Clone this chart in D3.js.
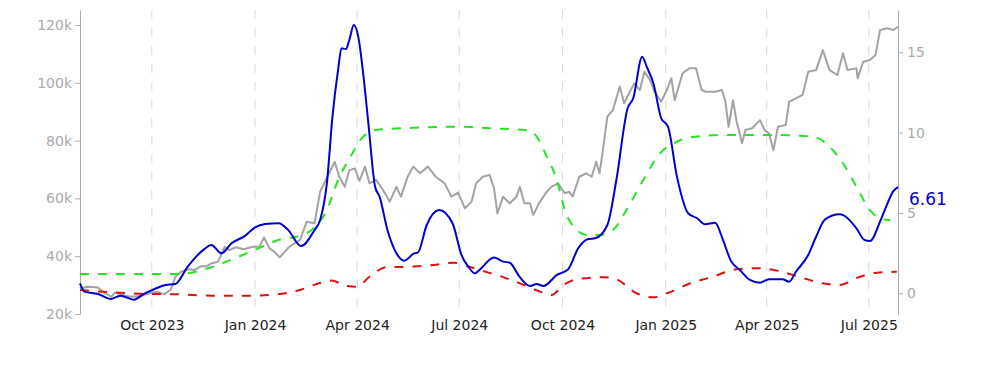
<!DOCTYPE html>
<html>
<head>
<meta charset="utf-8">
<script src="https://cdn.jsdelivr.net/npm/d3@7"></script>
<style>
  body { margin: 0; background: #fff; }
</style>
</head>
<body>
<div id="root"></div>
<script>
// price (left axis)
const priceDates = [
  "2023-07-29","2023-07-30","2023-08-05","2023-08-14","2023-08-20","2023-08-26","2023-08-29","2023-09-03",
  "2023-09-12","2023-09-21","2023-09-29","2023-10-06","2023-10-12","2023-10-18","2023-10-22","2023-10-27",
  "2023-11-03","2023-11-08","2023-11-14","2023-11-18","2023-11-23","2023-11-29","2023-12-05","2023-12-09",
  "2023-12-15","2023-12-22","2023-12-30","2024-01-05","2024-01-09","2024-01-14","2024-01-18","2024-01-23",
  "2024-01-31","2024-02-10","2024-02-16","2024-02-23","2024-02-28","2024-03-04","2024-03-07","2024-03-12",
  "2024-03-16","2024-03-21","2024-03-25","2024-03-30","2024-04-03","2024-04-08","2024-04-12","2024-04-18",
  "2024-04-24","2024-04-30","2024-05-06","2024-05-10","2024-05-16","2024-05-21","2024-05-27","2024-06-03",
  "2024-06-10","2024-06-18","2024-06-24","2024-06-30","2024-07-06","2024-07-12","2024-07-16","2024-07-22",
  "2024-07-28","2024-08-01","2024-08-04","2024-08-09","2024-08-15","2024-08-21","2024-08-24","2024-08-28",
  "2024-09-02","2024-09-05","2024-09-10","2024-09-16","2024-09-21","2024-09-27","2024-10-03","2024-10-07",
  "2024-10-10","2024-10-16","2024-10-22","2024-10-27","2024-10-31","2024-11-03","2024-11-06","2024-11-10",
  "2024-11-15","2024-11-21","2024-11-25","2024-11-30","2024-12-04","2024-12-09","2024-12-13","2024-12-18",
  "2024-12-22","2024-12-28","2025-01-02","2025-01-06","2025-01-09","2025-01-16","2025-01-22","2025-01-28",
  "2025-02-02","2025-02-06","2025-02-14","2025-02-20","2025-02-23","2025-02-26","2025-03-02","2025-03-05",
  "2025-03-10","2025-03-13","2025-03-19","2025-03-26","2025-03-30","2025-04-03","2025-04-07","2025-04-11",
  "2025-04-18","2025-04-21","2025-04-27","2025-05-03","2025-05-08","2025-05-15","2025-05-21","2025-05-27",
  "2025-06-03","2025-06-08","2025-06-12","2025-06-20","2025-06-21","2025-06-26","2025-07-02","2025-07-07",
  "2025-07-11","2025-07-17","2025-07-23","2025-07-27"
];
const priceValues = [
  29300,28900,29400,29200,27200,26000,27400,26800,
  26000,26200,27200,27700,26800,28500,32900,34600,
  35500,35200,36600,36400,37500,38100,43300,42100,
  43100,42400,43300,43300,46500,42700,41600,39600,
  43100,45600,51900,51400,62300,66400,68700,72700,
  67500,64000,69800,70400,66100,71000,65200,66400,
  62900,58900,64000,60600,67500,71000,68700,71000,
  67500,65200,60600,62000,56600,58900,65200,67500,
  68100,63500,54800,60600,58300,60600,64000,58300,
  58300,54300,58300,61800,64000,65200,61800,62300,
  60600,67500,68700,67500,72700,68700,76700,88300,
  90600,98700,92900,96900,99800,97500,103800,101000,
  96900,93500,97500,101600,94000,103300,105000,105000,
  97500,96900,96900,97500,94000,84800,94000,86900,
  79100,83700,84300,87100,83700,82500,76700,84800,
  85400,93500,94600,95800,103800,104400,111300,104400,
  102700,110200,104400,105000,101600,107300,107900,109600,
  118300,118900,118300,119400
];

// blue indicator (right axis)
const blueDates = [
  "2023-07-29","2023-08-02","2023-08-14","2023-08-25","2023-09-03","2023-09-15","2023-09-24","2023-10-03",
  "2023-10-13","2023-10-22","2023-11-02","2023-11-17","2023-11-23","2023-12-02","2023-12-11","2023-12-23",
  "2024-01-01","2024-01-10","2024-01-22","2024-01-31","2024-02-11","2024-02-23","2024-02-28","2024-03-05",
  "2024-03-10","2024-03-15","2024-03-18","2024-03-22","2024-03-25","2024-03-29","2024-04-02","2024-04-06",
  "2024-04-11","2024-04-17","2024-04-21","2024-04-28","2024-05-06","2024-05-13","2024-05-22","2024-05-25",
  "2024-06-02","2024-06-13","2024-06-25","2024-07-03","2024-07-09","2024-07-15","2024-07-19","2024-08-01",
  "2024-08-09","2024-08-15","2024-08-24","2024-09-02","2024-09-08","2024-09-14","2024-09-26","2024-10-06",
  "2024-10-15","2024-10-24","2024-10-30","2024-11-10","2024-11-18","2024-11-28","2024-12-03","2024-12-11",
  "2024-12-15","2024-12-21","2024-12-28","2025-01-03","2025-01-11","2025-01-21","2025-01-29","2025-02-05",
  "2025-02-14","2025-02-21","2025-02-28","2025-03-08","2025-03-17","2025-03-26","2025-04-03","2025-04-15",
  "2025-04-21","2025-04-27","2025-05-08","2025-05-15","2025-05-23","2025-06-05","2025-06-20","2025-06-27",
  "2025-07-02","2025-07-11","2025-07-17","2025-07-23","2025-07-27"
];
const blueValues = [
  0.62,0.1,-0.04,-0.35,-0.15,-0.4,-0.04,0.25,
  0.52,0.58,1.66,2.76,3.0,2.49,3.11,3.57,
  4.1,4.31,4.36,3.9,2.94,3.94,4.56,6.84,
  11.0,13.9,15.25,15.2,15.76,16.7,15.97,13.9,
  10.58,6.63,6.01,3.94,2.49,2.03,2.49,2.53,
  4.25,5.18,4.36,2.38,1.66,1.24,1.45,2.22,
  1.97,1.9,1.0,0.45,0.58,0.45,1.14,1.49,
  2.8,3.38,3.42,4.25,7.05,11.5,12.13,14.72,
  14.1,13.07,10.89,10.37,7.26,4.98,4.67,4.29,
  4.39,3.32,2.03,1.45,0.83,0.66,0.87,0.87,
  0.72,1.34,2.38,3.52,4.6,4.92,4.04,3.32,
  3.25,4.46,5.49,6.37,6.61
];

// green dashed (right axis)
const greenDates = [
  "2023-07-29","2023-10-26","2023-11-02","2023-11-23","2023-12-14","2024-01-04","2024-01-24","2024-02-07",
  "2024-02-22","2024-03-05","2024-03-15","2024-03-26","2024-04-05","2024-04-17","2024-05-21","2024-07-02",
  "2024-07-28","2024-09-02","2024-09-08","2024-09-17","2024-09-26","2024-10-03","2024-10-11","2024-10-23",
  "2024-11-03","2024-11-15","2024-11-27","2024-12-12","2024-12-27","2025-01-11","2025-01-23","2025-02-21",
  "2025-04-07","2025-05-04","2025-05-17","2025-05-27","2025-06-08","2025-06-20","2025-07-02","2025-07-11",
  "2025-07-20"
];
const greenValues = [
  1.2,1.2,1.24,1.62,2.18,2.8,3.36,3.52,
  4.04,5.18,7.05,8.5,9.64,10.16,10.3,10.37,
  10.27,10.12,9.75,8.5,7.05,5.18,4.14,3.63,
  3.63,3.94,5.18,7.05,8.71,9.43,9.71,9.85,
  9.85,9.79,9.64,9.12,8.09,6.63,5.18,4.67,
  4.56
];

// red dashed (right axis)
const redDates = [
  "2023-07-29","2023-08-26","2023-09-25","2023-10-24","2023-11-23","2023-12-23","2024-01-21","2024-02-10",
  "2024-02-25","2024-03-09","2024-03-23","2024-04-01","2024-04-12","2024-04-27","2024-05-21","2024-06-08",
  "2024-06-26","2024-07-08","2024-07-19","2024-08-06","2024-08-24","2024-09-11","2024-09-21","2024-10-02",
  "2024-10-14","2024-11-06","2024-11-18","2024-12-06","2024-12-21","2025-01-02","2025-01-23","2025-02-12",
  "2025-03-05","2025-03-23","2025-04-10","2025-05-01","2025-05-21","2025-06-05","2025-06-23","2025-07-08",
  "2025-07-26"
];
const redValues = [
  0.2,0.06,-0.04,-0.06,-0.15,-0.15,-0.06,0.2,
  0.58,0.79,0.45,0.41,1.03,1.62,1.66,1.76,
  1.9,1.7,1.45,1.08,0.62,0.1,-0.11,0.52,
  0.87,1.0,0.87,0,-0.25,0,0.62,1.03,
  1.49,1.56,1.41,1.0,0.62,0.52,1.03,1.28,
  1.34
];

const priceTicks = [20000, 40000, 60000, 80000, 100000, 120000];
const indexTicks = [0, 5, 10, 15];
const xTicks = ["2023-10-01","2024-01-01","2024-04-01","2024-07-01","2024-10-01","2025-01-01","2025-04-01","2025-07-01"];

const width = 1000;
const height = 370;
const margin = { top: 10, right: 102, bottom: 56, left: 80 };
const font = '"DejaVu Sans", Verdana, sans-serif';
const parse = d3.utcParse('%Y-%m-%d');

const svg = d3.select('#root')
  .append('svg')
    .attr('width', width)
    .attr('height', height)
    .attr('font-family', font);

const x = d3.scaleUtc()
  .domain([parse("2023-07-29"), parse("2025-07-27")])
  .range([margin.left, width - margin.right]);

const yLeft = d3.scaleLinear()
  .domain([20000, 125200])
  .range([height - margin.bottom, margin.top]);

const yRight = d3.scaleLinear()
  .domain([-1.29, 17.63])
  .range([height - margin.bottom, margin.top]);

// dashed vertical grid
svg.append('g')
  .selectAll('line')
  .data(xTicks.map(parse))
  .enter()
  .append('line')
    .attr('x1', d => x(d))
    .attr('x2', d => x(d))
    .attr('y1', margin.top)
    .attr('y2', height - margin.bottom)
    .attr('stroke', '#d9d9d9')
    .attr('stroke-width', 1)
    .attr('stroke-dasharray', '9,9');

// x axis (labels only)
const xAxis = svg.append('g')
  .attr('transform', `translate(0, ${height - margin.bottom})`)
  .call(d3.axisBottom(x)
    .tickValues(xTicks.map(parse))
    .tickFormat(d3.utcFormat('%b %Y'))
    .tickSize(0)
    .tickPadding(6))
  .attr('font-family', font)
  .attr('font-size', 14);
xAxis.select('.domain').remove();
xAxis.selectAll('text').attr('fill', '#222');

// left axis
const leftAxis = svg.append('g')
  .attr('transform', `translate(${margin.left}, 0)`)
  .call(d3.axisLeft(yLeft)
    .tickValues(priceTicks)
    .tickFormat(d => d / 1000 + 'k')
    .tickSize(5)
    .tickSizeOuter(0)
    .tickPadding(3))
  .attr('font-family', font)
  .attr('font-size', 14);
leftAxis.select('.domain').attr('stroke', '#aaa');
leftAxis.selectAll('.tick line').attr('stroke', '#aaa');
leftAxis.selectAll('text').attr('fill', '#aaa');

// right axis
const rightAxis = svg.append('g')
  .attr('transform', `translate(${width - margin.right}, 0)`)
  .call(d3.axisRight(yRight)
    .tickValues(indexTicks)
    .tickSize(5)
    .tickSizeOuter(0)
    .tickPadding(4))
  .attr('font-family', font)
  .attr('font-size', 14);
rightAxis.select('.domain').attr('stroke', '#aaa');
rightAxis.selectAll('.tick line').attr('stroke', '#aaa');
rightAxis.selectAll('text').attr('fill', '#aaa');

const lineFor = (dates, values, yScale, curve) => d3.line()
  .x((d, i) => x(parse(dates[i])))
  .y(d => yScale(d))
  .curve(curve)(values);

svg.append('path')
  .attr('d', lineFor(priceDates, priceValues, yLeft, d3.curveLinear))
  .attr('fill', 'none')
  .attr('stroke', '#a3a3a3')
  .attr('stroke-width', 2)
  .attr('stroke-linejoin', 'round');

svg.append('path')
  .attr('d', lineFor(greenDates, greenValues, yRight, d3.curveMonotoneX))
  .attr('fill', 'none')
  .attr('stroke', '#22e622')
  .attr('stroke-width', 2)
  .attr('stroke-dasharray', '9,9');

svg.append('path')
  .attr('d', lineFor(redDates, redValues, yRight, d3.curveMonotoneX))
  .attr('fill', 'none')
  .attr('stroke', '#e01010')
  .attr('stroke-width', 2)
  .attr('stroke-dasharray', '9,9');

svg.append('path')
  .attr('d', lineFor(blueDates, blueValues, yRight, d3.curveMonotoneX))
  .attr('fill', 'none')
  .attr('stroke', '#0000d0')
  .attr('stroke-width', 2)
  .attr('stroke-linejoin', 'round');

// last value label
const lastBlue = blueValues[blueValues.length - 1];
svg.append('text')
  .attr('x', width - margin.right + 11)
  .attr('y', yRight(lastBlue) + 18)
  .attr('font-size', 17)
  .attr('fill', '#0000d0')
  .text(lastBlue.toFixed(2));
</script>
</body>
</html>
